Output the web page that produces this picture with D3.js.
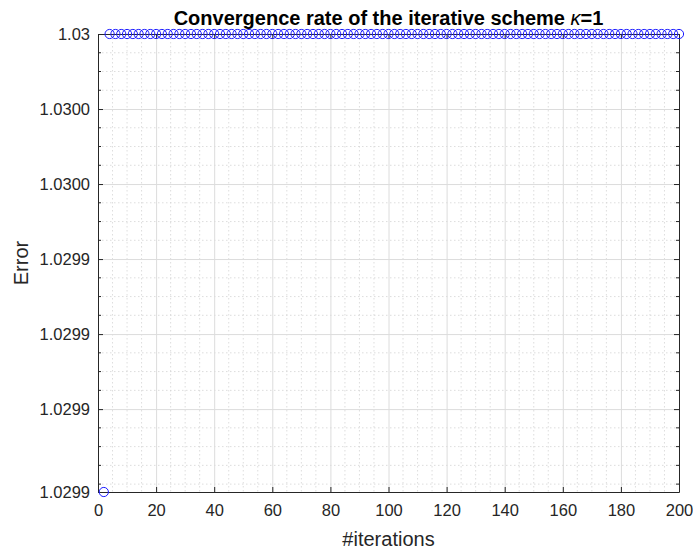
<!DOCTYPE html>
<html>
<head>
<meta charset="utf-8">
<script src="https://cdn.jsdelivr.net/npm/d3@7"></script>
<style>
  body { margin: 0; background: #fff; }
  svg { font-family: "Liberation Sans", Arial, sans-serif; }
  .axis path, .axis line { stroke: #262626; }
  .axis text { fill: #262626; font-size: 16.5px; }
</style>
</head>
<body>
<div id="chart"></div>
<script>
// iteration numbers (every second iteration is plotted)
const iterations = [
  2, 4, 6, 8, 10, 12, 14, 16, 18, 20, 22, 24, 26, 28, 30, 32, 34, 36, 38, 40,
  42, 44, 46, 48, 50, 52, 54, 56, 58, 60, 62, 64, 66, 68, 70, 72, 74, 76, 78, 80,
  82, 84, 86, 88, 90, 92, 94, 96, 98, 100, 102, 104, 106, 108, 110, 112, 114, 116, 118, 120,
  122, 124, 126, 128, 130, 132, 134, 136, 138, 140, 142, 144, 146, 148, 150, 152, 154, 156, 158, 160,
  162, 164, 166, 168, 170, 172, 174, 176, 178, 180, 182, 184, 186, 188, 190, 192, 194, 196, 198, 200
];
const errors = [
  1.0298779, 1.03, 1.03, 1.03, 1.03, 1.03, 1.03, 1.03, 1.03, 1.03,
  1.03, 1.03, 1.03, 1.03, 1.03, 1.03, 1.03, 1.03, 1.03, 1.03,
  1.03, 1.03, 1.03, 1.03, 1.03, 1.03, 1.03, 1.03, 1.03, 1.03,
  1.03, 1.03, 1.03, 1.03, 1.03, 1.03, 1.03, 1.03, 1.03, 1.03,
  1.03, 1.03, 1.03, 1.03, 1.03, 1.03, 1.03, 1.03, 1.03, 1.03,
  1.03, 1.03, 1.03, 1.03, 1.03, 1.03, 1.03, 1.03, 1.03, 1.03,
  1.03, 1.03, 1.03, 1.03, 1.03, 1.03, 1.03, 1.03, 1.03, 1.03,
  1.03, 1.03, 1.03, 1.03, 1.03, 1.03, 1.03, 1.03, 1.03, 1.03,
  1.03, 1.03, 1.03, 1.03, 1.03, 1.03, 1.03, 1.03, 1.03, 1.03,
  1.03, 1.03, 1.03, 1.03, 1.03, 1.03, 1.03, 1.03, 1.03, 1.03
];

const xTicks = [0, 20, 40, 60, 80, 100, 120, 140, 160, 180, 200];
const yTicks = [1.0298779, 1.0299, 1.02992, 1.02994, 1.02996, 1.02998, 1.03];
const yTickLabels = ["1.0299", "1.0299", "1.0299", "1.0299", "1.0300", "1.0300", "1.03"];

const W = 693, H = 552;
const margin = { top: 34, right: 14, bottom: 60, left: 98 };
const width = W - margin.left - margin.right;
const height = H - margin.top - margin.bottom;

const x = d3.scaleLinear().domain([0, 200]).range([0, width]);
const y = d3.scaleLinear().domain([d3.min(errors), d3.max(errors)]).range([height, 0]);

const xMinor = d3.range(0, 201, 5).filter(v => v % 20 !== 0);
const yMinor = d3.range(0, 30).map(i => 1.03 - i * 5e-6)
  .filter(v => v >= y.domain()[0] && !yTicks.some(t => Math.abs(t - v) < 1e-9));

const svg = d3.select("#chart").append("svg")
  .attr("width", W).attr("height", H);
const g = svg.append("g").attr("transform", `translate(${margin.left},${margin.top})`);

// minor grid (dotted)
g.append("g").selectAll("line.xm").data(xMinor).enter().append("line")
  .attr("x1", d => x(d)).attr("x2", d => x(d)).attr("y1", 0).attr("y2", height)
  .attr("stroke", "#d4d4d4").attr("stroke-width", 0.8).attr("stroke-dasharray", "1.5,2.5");
g.append("g").selectAll("line.ym").data(yMinor).enter().append("line")
  .attr("y1", d => y(d)).attr("y2", d => y(d)).attr("x1", 0).attr("x2", width)
  .attr("stroke", "#d4d4d4").attr("stroke-width", 0.8).attr("stroke-dasharray", "1.5,2.5");

// major grid
g.append("g").call(d3.axisBottom(x).tickValues(xTicks).tickSize(height).tickFormat(""))
  .call(s => s.select(".domain").remove())
  .selectAll("line").attr("stroke", "#dcdcdc");
g.append("g").call(d3.axisLeft(y).tickValues(yTicks).tickSize(-width).tickFormat(""))
  .call(s => s.select(".domain").remove())
  .selectAll("line").attr("stroke", "#dcdcdc");

// axes (ticks pointing inward, box on)
g.append("g").attr("class", "axis")
  .attr("transform", `translate(0,${height})`)
  .call(d3.axisBottom(x).tickValues(xTicks).tickSize(-5).tickSizeOuter(0).tickPadding(12));
g.append("g").attr("class", "axis")
  .call(d3.axisTop(x).tickValues(xTicks).tickSize(-5).tickSizeOuter(0).tickFormat(""));
g.append("g").attr("class", "axis")
  .call(d3.axisLeft(y).tickValues(yTicks).tickSize(-5).tickSizeOuter(0).tickPadding(8)
    .tickFormat((d, i) => yTickLabels[i]));
g.append("g").attr("class", "axis")
  .attr("transform", `translate(${width},0)`)
  .call(d3.axisRight(y).tickValues(yTicks).tickSize(-5).tickSizeOuter(0).tickFormat(""));

// minor y ticks
[0, width].forEach(px => {
  g.append("g").selectAll("line").data(yMinor).enter().append("line")
    .attr("x1", px).attr("x2", px === 0 ? 3 : width - 3)
    .attr("y1", d => y(d)).attr("y2", d => y(d))
    .attr("stroke", "#262626");
});

// markers
g.append("g").selectAll("circle")
  .data(iterations.map((it, i) => [it, errors[i]]))
  .enter().append("circle")
  .attr("cx", d => x(d[0]))
  .attr("cy", d => y(d[1]))
  .attr("r", 4.6)
  .attr("fill", "none")
  .attr("stroke", "#1a1aff")
  .attr("stroke-width", 1);

// title and labels
svg.append("text")
  .attr("x", margin.left + width / 2).attr("y", 25)
  .attr("text-anchor", "middle")
  .style("font-size", "20px").style("font-weight", "bold").attr("fill", "#000")
  .html('Convergence rate of the iterative scheme <tspan font-style="italic" font-weight="normal">κ</tspan>=1');

svg.append("text")
  .attr("x", margin.left + width / 2).attr("y", 546)
  .attr("text-anchor", "middle")
  .style("font-size", "20px").attr("fill", "#262626")
  .text("#iterations");

svg.append("text")
  .attr("transform", `translate(28,${margin.top + height / 2}) rotate(-90)`)
  .attr("text-anchor", "middle")
  .style("font-size", "20px").attr("fill", "#262626")
  .text("Error");
</script>
</body>
</html>
